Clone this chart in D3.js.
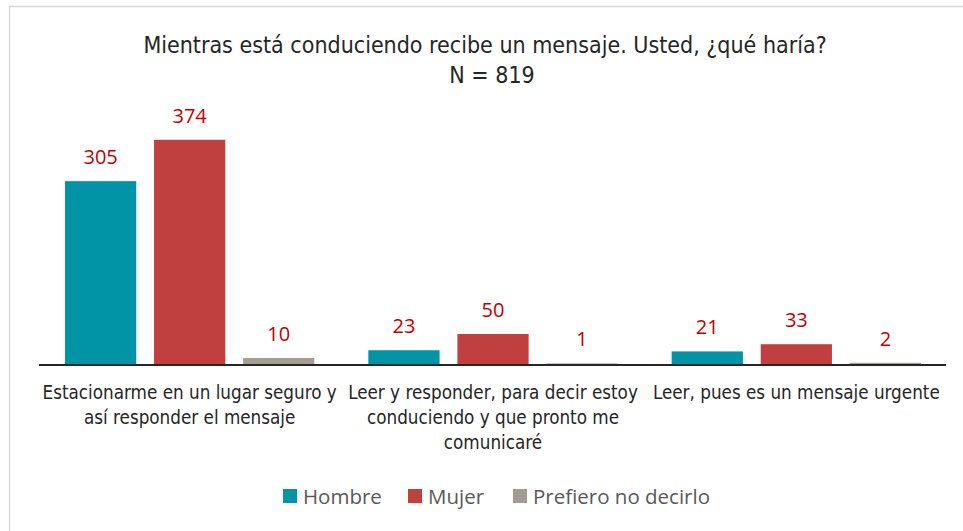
<!DOCTYPE html>
<html>
<head>
<meta charset="utf-8">
<script src="https://cdn.jsdelivr.net/npm/d3@7"></script>
<style>
  body { margin: 0; background: #fff; }
  svg { display: block; }
</style>
</head>
<body>
<svg id="chart"></svg>
<script>
// chart data
const categories = [
  ["Estacionarme en un lugar seguro y", "así responder el mensaje"],
  ["Leer y responder, para decir estoy", "conduciendo y que pronto me", "comunicaré"],
  ["Leer, pues es un mensaje urgente"]
];
const seriesNames = ["Hombre", "Mujer", "Prefiero no decirlo"];
const hombre = [305, 23, 21];
const mujer = [374, 50, 33];
const prefiero = [10, 1, 2];
const colors = ["#0094A6", "#C0403F", "#A59D94"];

const width = 963;
const height = 531;
const margin = { left: 38, right: 15, top: 124, bottom: 167 };
const narrow = "'Liberation Sans Narrow', 'DejaVu Sans Condensed', sans-serif";

const svg = d3.select("#chart").attr("width", width).attr("height", height);

// outer frame (only left/top visible in the reference)
svg.append("rect")
  .attr("x", 9.5).attr("y", 6.5)
  .attr("width", width + 20).attr("height", height + 20)
  .attr("fill", "none").attr("stroke", "#d9d9d9").attr("stroke-width", 1.5);

// title
svg.append("text")
  .attr("x", 485).attr("y", 53)
  .attr("text-anchor", "middle")
  .style("font-family", narrow).style("font-size", "23px").style("fill", "#262626")
  .text("Mientras está conduciendo recibe un mensaje. Usted, ¿qué haría?");
svg.append("text")
  .attr("x", 492).attr("y", 83)
  .attr("text-anchor", "middle")
  .style("font-family", narrow).style("font-size", "23px").style("fill", "#262626")
  .text("N = 819");

const series = [hombre, mujer, prefiero];
const rows = [];
categories.forEach((c, i) => {
  series.forEach((s, j) => rows.push({ cat: i, ser: j, value: s[i] }));
});

const x0 = d3.scaleBand()
  .domain(d3.range(categories.length))
  .range([margin.left, width - margin.right])
  .paddingInner(0).paddingOuter(0);

const x1 = d3.scaleBand()
  .domain(d3.range(seriesNames.length))
  .range([27, x0.bandwidth() - 27])
  .paddingInner(0.2).paddingOuter(0);

const y = d3.scaleLinear()
  .domain([0, 400])
  .range([364, 364 - 400 * 0.5995]);

const g = svg.append("g");

g.selectAll("rect.bar")
  .data(rows)
  .enter()
  .append("rect")
    .attr("class", "bar")
    .attr("x", d => x0(d.cat) + x1(d.ser))
    .attr("y", d => y(d.value))
    .attr("width", x1.bandwidth())
    .attr("height", d => y(0) - y(d.value))
    .style("fill", d => colors[d.ser]);

g.selectAll("text.val")
  .data(rows)
  .enter()
  .append("text")
    .attr("class", "val")
    .attr("x", d => x0(d.cat) + x1(d.ser) + x1.bandwidth() / 2)
    .attr("y", d => y(d.value) - 17)
    .attr("text-anchor", "middle")
    .style("font-family", "'Open Sans', sans-serif")
    .style("font-size", "20px")
    .style("fill", "#C00000")
    .text(d => d.value);

// baseline
svg.append("line")
  .attr("x1", margin.left + 1).attr("x2", width - margin.right - 2)
  .attr("y1", y(0) + 1).attr("y2", y(0) + 1)
  .attr("stroke", "#262626").attr("stroke-width", 2);

// category labels
const catLabels = svg.selectAll("text.cat")
  .data(categories)
  .enter()
  .append("text")
    .attr("class", "cat")
    .attr("text-anchor", "middle")
    .style("font-family", narrow).style("font-size", "18.7px").style("fill", "#262626");

catLabels.each(function(lines, i) {
  d3.select(this).selectAll("tspan")
    .data(lines)
    .enter()
    .append("tspan")
      .attr("x", x0(i) + x0.bandwidth() / 2)
      .attr("y", (d, k) => 399 + k * 25)
      .text(d => d);
});

// legend
const legendX = [283, 408, 513];
const legend = svg.selectAll("g.leg")
  .data(seriesNames)
  .enter()
  .append("g")
    .attr("class", "leg")
    .attr("transform", (d, i) => "translate(" + legendX[i] + ",489)");
legend.append("rect")
  .attr("width", 14).attr("height", 14)
  .style("fill", (d, i) => colors[i]);
legend.append("text")
  .attr("x", 20).attr("y", 14.5)
  .style("font-family", "'Open Sans', sans-serif")
  .style("font-size", "20.5px").style("fill", "#595959")
  .text(d => d);
</script>
</body>
</html>
